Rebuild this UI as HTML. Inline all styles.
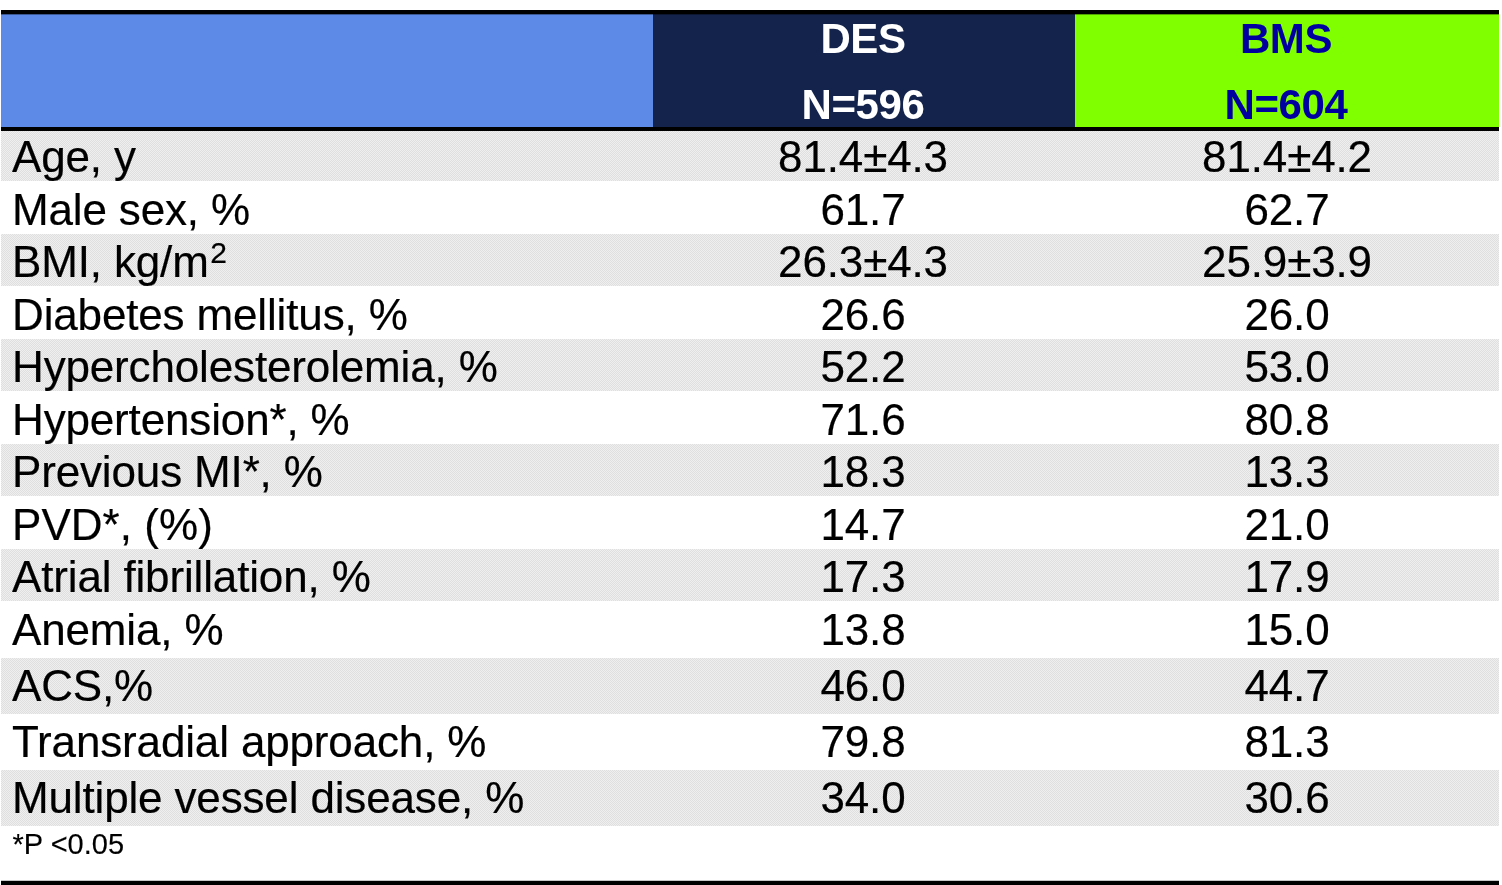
<!DOCTYPE html>
<html lang="en"><head><meta charset="utf-8"><title>Baseline characteristics</title>
<style>
html,body{margin:0;padding:0;background:#fff;}
body{width:1502px;height:885px;position:relative;overflow:hidden;font-family:"Liberation Sans",sans-serif;color:#000;}
.abs{position:absolute;}
.bar{position:absolute;left:1px;width:1498px;background:#000;}
.hd{position:absolute;top:14px;height:114px;}
.hd .t{position:absolute;left:-1px;right:1px;text-align:center;font-weight:bold;font-size:42px;line-height:48px;white-space:nowrap;letter-spacing:-0.4px;}
.row{position:absolute;left:1px;width:1498px;}
.row.g{background:#e7e7e7 repeating-conic-gradient(#dfdfdf 0 25%,#efefef 0 50%) 0 0/2px 2px;}
.c{position:absolute;top:0;white-space:nowrap;font-size:44px;line-height:50px;padding-top:3.0px;letter-spacing:-0.15px;-webkit-text-stroke:0.2px #000;}
.c1{left:11px;text-align:left;}
.c2{left:651px;width:422px;text-align:center;}
.c3{left:1074px;width:424px;text-align:center;}
sup{font-size:30px;line-height:0;vertical-align:baseline;position:relative;top:-13.6px;margin-left:1.5px;letter-spacing:0;}
.fn{position:absolute;left:12.5px;top:826.5px;font-size:29px;line-height:34px;white-space:nowrap;-webkit-text-stroke:0.15px #000;}
</style></head><body>
<div class="hd" style="left:1px;width:652px;background:#5d8ae6"></div>
<div class="hd" style="left:653px;width:422px;background:#13234c;color:#fff"><div class="t" style="top:0.5px">DES</div><div class="t" style="top:66.5px">N=596</div></div>
<div class="hd" style="left:1075px;width:424px;background:#80ff00;color:#0000a0"><div class="t" style="top:0.5px">BMS</div><div class="t" style="top:66.5px">N=604</div></div>
<div class="row g" style="top:129px;height:52px"><div class="c c1">Age, y</div><div class="c c2">81.4±4.3</div><div class="c c3">81.4±4.2</div></div>
<div class="row" style="top:181px;height:53px"><div class="c c1" style="padding-top:4px">Male sex, %</div><div class="c c2" style="padding-top:4px">61.7</div><div class="c c3" style="padding-top:4px">62.7</div></div>
<div class="row g" style="top:234px;height:52px"><div class="c c1">BMI, kg/m<sup>2</sup></div><div class="c c2">26.3±4.3</div><div class="c c3">25.9±3.9</div></div>
<div class="row" style="top:286px;height:53px"><div class="c c1" style="padding-top:4px">Diabetes mellitus, %</div><div class="c c2" style="padding-top:4px">26.6</div><div class="c c3" style="padding-top:4px">26.0</div></div>
<div class="row g" style="top:339px;height:52px"><div class="c c1">Hypercholesterolemia, %</div><div class="c c2">52.2</div><div class="c c3">53.0</div></div>
<div class="row" style="top:391px;height:53px"><div class="c c1" style="padding-top:4px">Hypertension*, %</div><div class="c c2" style="padding-top:4px">71.6</div><div class="c c3" style="padding-top:4px">80.8</div></div>
<div class="row g" style="top:444px;height:52px"><div class="c c1">Previous MI*, %</div><div class="c c2">18.3</div><div class="c c3">13.3</div></div>
<div class="row" style="top:496px;height:53px"><div class="c c1" style="padding-top:4px;letter-spacing:0.05px">PVD*, (%)</div><div class="c c2" style="padding-top:4px">14.7</div><div class="c c3" style="padding-top:4px">21.0</div></div>
<div class="row g" style="top:549px;height:52px"><div class="c c1">Atrial fibrillation, %</div><div class="c c2">17.3</div><div class="c c3">17.9</div></div>
<div class="row" style="top:601px;height:57px"><div class="c c1" style="padding-top:4px">Anemia, %</div><div class="c c2" style="padding-top:4px">13.8</div><div class="c c3" style="padding-top:4px">15.0</div></div>
<div class="row g" style="top:658px;height:56px"><div class="c c1">ACS,%</div><div class="c c2">46.0</div><div class="c c3">44.7</div></div>
<div class="row" style="top:714px;height:56px"><div class="c c1">Transradial approach, %</div><div class="c c2">79.8</div><div class="c c3">81.3</div></div>
<div class="row g" style="top:770px;height:56px"><div class="c c1">Multiple vessel disease, %</div><div class="c c2">34.0</div><div class="c c3">30.6</div></div>
<div class="bar" style="top:10px;height:4.4px"></div>
<div class="bar" style="top:14px;height:1px;opacity:.36"></div>
<div class="bar" style="top:127.2px;height:3.8px"></div>
<div class="fn">*P &lt;0.05</div>
<div class="bar" style="top:880px;height:1px;opacity:.22"></div>
<div class="bar" style="top:881px;height:4px"></div>
</body></html>
